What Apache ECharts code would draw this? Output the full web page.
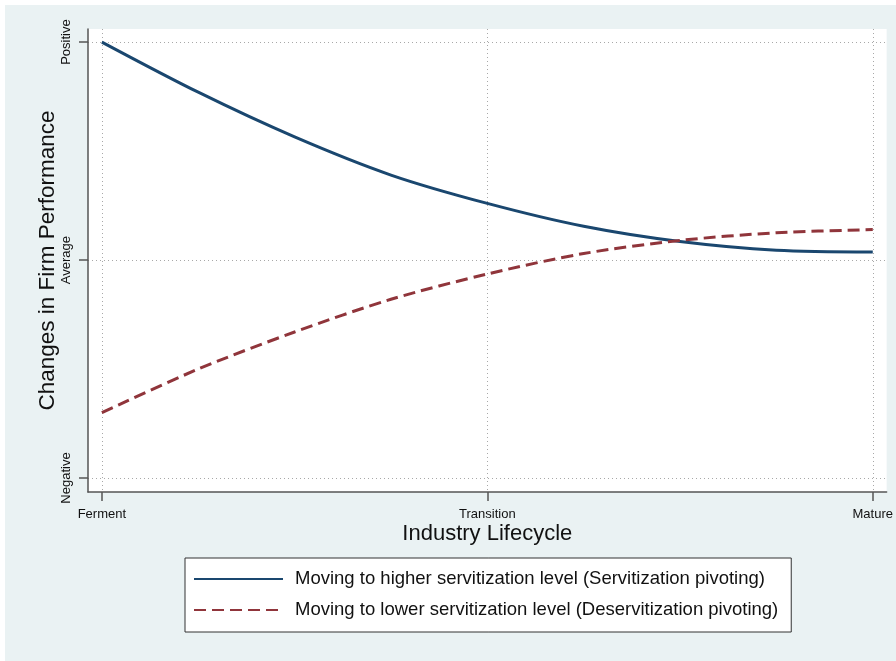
<!DOCTYPE html>
<html>
<head>
<meta charset="utf-8">
<script src="https://cdn.jsdelivr.net/npm/echarts@6/dist/echarts.min.js"></script>
<style>
  html, body { margin: 0; padding: 0; background: #ffffff; }
  #chart { width: 896px; height: 661px; }
</style>
</head>
<body>
<div id="chart"></div>
<script>
// ---- data ----
const xValues = [0, 0.25, 0.5, 0.75, 1, 1.25, 1.5, 1.75, 2];
const higherServitization = [1.00, 0.77, 0.565, 0.39, 0.26, 0.155, 0.085, 0.045, 0.037];
const lowerServitization  = [-0.70, -0.50, -0.33, -0.18, -0.064, 0.03, 0.09, 0.125, 0.14];
const xTickValues = [0, 1, 2];
const xTickLabels = ['Ferment', 'Transition', 'Mature'];
const yTickValues = [-1, 0, 1];
const yTickLabels = ['Negative', 'Average', 'Positive'];
const seriesNames = [
  'Moving to higher servitization level (Servitization pivoting)',
  'Moving to lower servitization level (Deservitization pivoting)'
];

const FONT = "'Liberation Sans', Arial, sans-serif";
const pair = (xs, ys) => xs.map((x, i) => [x, ys[i]]);
const lookup = (vals, labels) => v => {
  const i = vals.findIndex(t => Math.abs(t - v) < 1e-6);
  return i >= 0 ? labels[i] : '';
};

const chart = echarts.init(document.getElementById('chart'), null, { renderer: 'canvas' });
chart.setOption({
  animation: false,
  backgroundColor: 'transparent',
  graphic: [{
    type: 'rect', z: -10, silent: true,
    shape: { x: 5, y: 5, width: 891, height: 656 },
    style: { fill: '#eaf2f3' }
  }],
  grid: {
    left: 88, right: 9, top: 29, bottom: 169,
    show: true, backgroundColor: '#ffffff', borderWidth: 0
  },
  xAxis: {
    type: 'value',
    min: -0.036, max: 2.036,
    name: 'Industry Lifecycle',
    nameLocation: 'middle',
    nameMoveOverlap: false,
    nameGap: 31,
    nameTextStyle: { fontFamily: FONT, fontSize: 22, color: '#111' },
    axisLine: { show: true, onZero: false, lineStyle: { color: '#555', width: 1.5 } },
    axisTick: { show: true, customValues: xTickValues, length: 9, lineStyle: { color: '#555', width: 1.5 } },
    axisLabel: {
      customValues: xTickValues, margin: 16,
      formatter: lookup(xTickValues, xTickLabels),
      fontFamily: FONT, fontSize: 13, color: '#111'
    },
    splitLine: { show: true, lineStyle: { color: '#a8a8a8', type: [1, 3], width: 1 } }
  },
  yAxis: {
    type: 'value',
    min: -1.064, max: 1.06,
    name: 'Changes in Firm Performance',
    nameLocation: 'middle',
    nameMoveOverlap: false,
    nameGap: 29,
    nameTextStyle: { fontFamily: FONT, fontSize: 22.5, color: '#111' },
    axisLine: { show: true, onZero: false, lineStyle: { color: '#555', width: 1.5 } },
    axisTick: { show: true, customValues: yTickValues, length: 9, lineStyle: { color: '#555', width: 1.5 } },
    axisLabel: {
      customValues: yTickValues, margin: 15, rotate: 90,
      align: 'center', verticalAlign: 'bottom',
      formatter: lookup(yTickValues, yTickLabels),
      fontFamily: FONT, fontSize: 13, color: '#111'
    },
    splitLine: { show: true, lineStyle: { color: '#a8a8a8', type: [1, 3], width: 1 } }
  },
  legend: {
    orient: 'vertical',
    left: 185, top: 558,
    padding: [11, 13, 12, 8],
    itemWidth: 89, itemHeight: 16, itemGap: 11,
    backgroundColor: '#ffffff',
    borderColor: '#333', borderWidth: 1,
    itemStyle: { opacity: 0, color: 'rgba(0,0,0,0)', borderWidth: 0 },
    textStyle: { fontFamily: FONT, fontSize: 18.5, lineHeight: 20, color: '#111', padding: [0, 0, 0, 7] },
    data: seriesNames
  },
  series: [
    {
      name: seriesNames[0], type: 'line', smooth: 0.3,
      symbol: 'none', showSymbol: false,
      data: pair(xValues, higherServitization),
      lineStyle: { color: '#1a476f', width: 3 },
      itemStyle: { color: '#1a476f' }
    },
    {
      name: seriesNames[1], type: 'line', smooth: 0.3,
      symbol: 'none', showSymbol: false,
      data: pair(xValues, lowerServitization),
      lineStyle: { color: '#90353b', width: 3, type: [12, 6] },
      itemStyle: { color: '#90353b' }
    }
  ]
});
</script>
</body>
</html>
